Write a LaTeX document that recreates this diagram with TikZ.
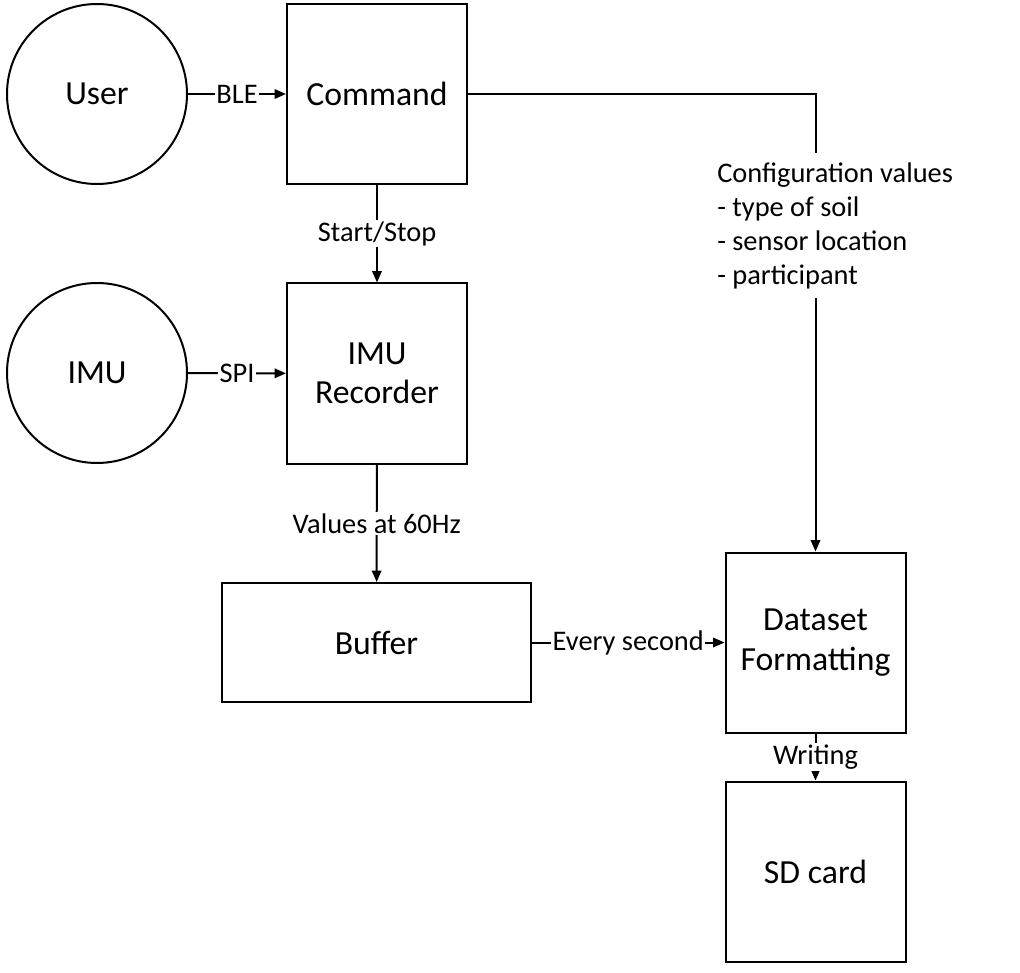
\documentclass[tikz,border=0pt]{standalone}
\usepackage{fontspec}
\setmainfont{Carlito}
\usetikzlibrary{arrows.meta}

\newcommand{\bigtxt}{\fontsize{25.3}{29.5}\selectfont}
\newcommand{\smalltxt}{\fontsize{21.3}{25.5}\selectfont}

\tikzset{
  block/.style={draw, line width=1.5pt, minimum width=135pt, minimum height=135pt, align=center, font=\bigtxt, inner sep=0pt},
  source/.style={draw, circle, line width=1.5pt, minimum size=135pt, font=\bigtxt, inner sep=0pt},
  lbl/.style={fill=white, inner sep=1pt, font=\smalltxt},
  flow/.style={line width=1.5pt, -{Triangle[length=8.5pt,width=7pt]}}
}

\begin{document}
\begin{tikzpicture}[x=0.75pt, y=-0.75pt]
\useasboundingbox (0, 0) rectangle (1020, 973);

% sources
\node [source] (user) at (97, 94) {User};
\node [source] (imu) at (97, 373) {IMU};

% processing blocks
\node [block] (cmd) at (377, 94) {Command};
\node [block] (rec) at (377, 373.5) {IMU\\Recorder};
\node [block, minimum width=231.75pt, minimum height=89.25pt] (buf) at (376.5, 642.5) {Buffer};
\node [block] (ds) at (815.5, 642.5) {Dataset\\Formatting};
\node [block] (sd) at (815.5, 871.5) {SD card};

\node [anchor=west, align=left, inner sep=0pt, minimum height=108.75pt, font=\smalltxt] (cfg) at (717, 225.5)
  {Configuration values\\- type of soil\\- sensor location\\- participant};

% connectors
\draw [flow] (user) -- node [lbl] {BLE} (cmd);
\draw [flow] (imu) -- node [lbl] {SPI} (rec);
\draw [flow] (cmd) -- node [lbl] {Start/Stop} (rec);
\draw [flow] (rec) -- node [lbl] {Values at 60Hz} (buf);
\draw [flow] (buf) -- node [lbl] {Every second} (ds);
\draw [flow] (ds) -- node [lbl] {Writing} (sd);

\draw [line width=1.5pt] (cmd.east) -| (cfg.north -| ds.north);
\draw [flow] (cfg.south -| ds.north) -- (ds.north);
\end{tikzpicture}
\end{document}
